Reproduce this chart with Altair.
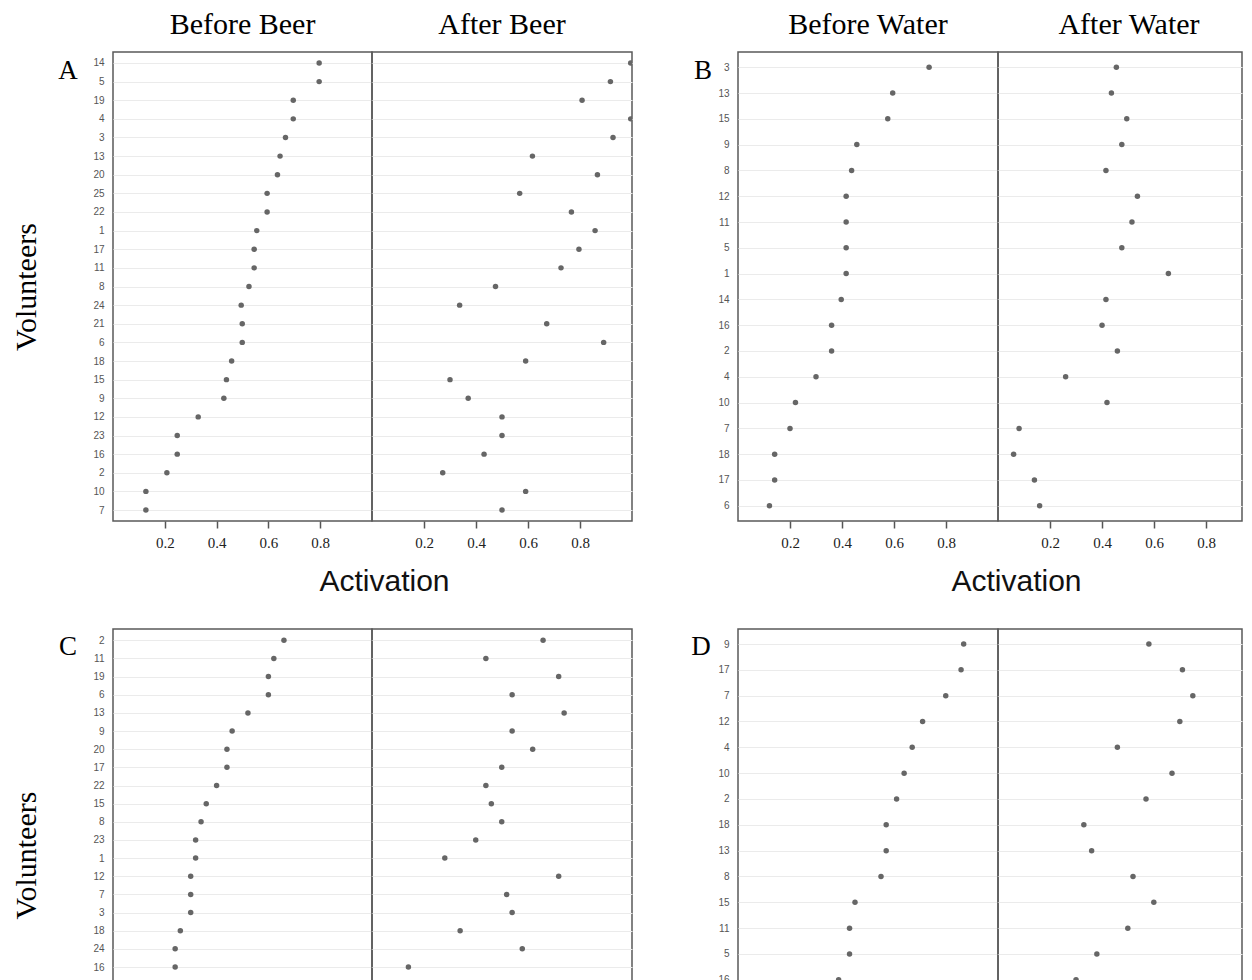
import altair as alt
import pandas as pd

# ---------------- data ----------------
# Panel A: beer study, before / after
a_ids = ["14", "5", "19", "4", "3", "13", "20", "25", "22", "1", "17", "11", "8",
         "24", "21", "6", "18", "15", "9", "12", "23", "16", "2", "10", "7"]
a_before = [0.796, 0.796, 0.696, 0.696, 0.666, 0.645, 0.635, 0.595, 0.595, 0.555,
            0.545, 0.545, 0.525, 0.495, 0.499, 0.499, 0.458, 0.438, 0.428, 0.329,
            0.248, 0.248, 0.208, 0.127, 0.127]
a_after = [0.995, 0.917, 0.808, 0.995, 0.927, 0.617, 0.867, 0.568, 0.767, 0.858,
           0.796, 0.727, 0.475, 0.337, 0.672, 0.891, 0.591, 0.300, 0.370, 0.500,
           0.500, 0.431, 0.272, 0.591, 0.500]

# Panel B: water study, before / after
b_ids = ["3", "13", "15", "9", "8", "12", "11", "5", "1", "14", "16", "2", "4",
         "10", "7", "18", "17", "6"]
b_before = [0.735, 0.595, 0.576, 0.457, 0.437, 0.416, 0.416, 0.416, 0.416, 0.397,
            0.360, 0.360, 0.300, 0.221, 0.200, 0.141, 0.141, 0.121]
b_after = [0.455, 0.436, 0.495, 0.476, 0.415, 0.536, 0.515, 0.476, 0.655, 0.415,
           0.400, 0.459, 0.260, 0.419, 0.081, 0.060, 0.140, 0.160]

# Panel C: beer study (visible rows only)
c_ids = ["2", "11", "19", "6", "13", "9", "20", "17", "22", "15", "8", "23", "1",
         "12", "7", "3", "18", "24", "16"]
c_before = [0.660, 0.621, 0.600, 0.600, 0.521, 0.460, 0.440, 0.440, 0.400, 0.360,
            0.340, 0.319, 0.319, 0.300, 0.300, 0.300, 0.260, 0.240, 0.240]
c_after = [0.658, 0.438, 0.718, 0.539, 0.739, 0.539, 0.618, 0.499, 0.438, 0.459,
           0.499, 0.399, 0.280, 0.718, 0.518, 0.539, 0.339, 0.578, 0.140]

# Panel D: water study (visible rows only)
d_ids = ["9", "17", "7", "12", "4", "10", "2", "18", "13", "8", "15", "11", "5", "16"]
d_before = [0.868, 0.858, 0.799, 0.710, 0.670, 0.639, 0.610, 0.570, 0.570, 0.550,
            0.450, 0.429, 0.429, 0.387]
d_after = [0.580, 0.709, 0.749, 0.699, 0.459, 0.669, 0.569, 0.330, 0.360, 0.519,
           0.599, 0.499, 0.380, 0.300]

tick_values = [0.2, 0.4, 0.6, 0.8]

SERIF = "Liberation Serif"
SANS = "Liberation Sans"
PANEL_H = 469
GRID = "#ebebeb"
DOT = "#666666"


def sub(ids, vals, width, xmax, side, header=None, header_dx=0, letter=None,
        letter_x=-45, letter_y=27, vol=False, vol_y=234.5, act_x=None, yrange=None):
    df = pd.DataFrame({"Volunteer": ids, "Activation": vals})
    if yrange is not None:
        yscale = alt.Scale(range=yrange, padding=0)
    else:
        yscale = alt.Scale(padding=0.59)

    if side == "before":
        yaxis = alt.Axis(labelFont=SANS, labelFontSize=10, labelColor="#555555",
                         labelPadding=9, ticks=False, domain=False, grid=True,
                         gridColor=GRID, gridWidth=1,
                         title="Volunteers" if vol else None,
                         titleFont=SERIF, titleFontSize=30, titleFontWeight="normal",
                         titleColor="#000000", titleAngle=270, titleX=-87,
                         titleY=vol_y, titleAlign="center", titleBaseline="middle")
        xaxis = alt.Axis(values=tick_values, format=".1f", labelFont=SERIF,
                         labelFontSize=15, labelColor="#222222", labelPadding=7,
                         labelFlush=False, tickSize=7, tickWidth=1.5,
                         tickColor="#555555", domain=False, grid=False,
                         title="Activation", titleFont=SANS, titleFontSize=30,
                         titleFontWeight="normal", titleColor="#111111",
                         titleX=act_x, titleY=69, titleAlign="center",
                         titleBaseline="alphabetic")
    else:
        yaxis = alt.Axis(labels=False, ticks=False, domain=False, grid=True,
                         gridColor=GRID, gridWidth=1, title=None)
        xaxis = alt.Axis(values=tick_values, format=".1f", labelFont=SERIF,
                         labelFontSize=15, labelColor="#222222", labelPadding=7,
                         labelFlush=False, tickSize=7, tickWidth=1.5,
                         tickColor="#555555", domain=False, grid=False, title=None)

    pts = alt.Chart(df).mark_circle(size=30, color=DOT, opacity=1, clip=True).encode(
        x=alt.X("Activation:Q", scale=alt.Scale(domain=[0, xmax], nice=False, zero=False),
                axis=xaxis),
        y=alt.Y("Volunteer:N", sort=ids, scale=yscale, axis=yaxis),
    )
    layers = [pts]
    if letter is not None:
        ltr = alt.Chart(pd.DataFrame({"letter": [letter]})).mark_text(
            font=SERIF, fontSize=27, align="center", baseline="alphabetic",
            color="#000000").encode(
            text="letter:N", x=alt.value(letter_x), y=alt.value(letter_y))
        layers.append(ltr)
    ch = alt.layer(*layers).properties(width=width, height=PANEL_H)
    if header is not None:
        ch = ch.properties(title=alt.TitleParams(
            text=header, font=SERIF, fontSize=30, fontWeight="normal",
            color="#000000", anchor="middle", offset=12, dx=header_dx))
    return ch


def spacer(w):
    return alt.Chart(pd.DataFrame({"s": [""]})).mark_text().encode(
        text="s:N").properties(width=w, height=PANEL_H,
                               view=alt.ViewBackground(stroke="transparent"))


A_b = sub(a_ids, a_before, 259, 1.0, "before", header="Before Beer", letter="A",
          letter_x=-45, letter_y=27, vol=True, act_x=271)
A_a = sub(a_ids, a_after, 260, 1.0, "after", header="After Beer")
B_b = sub(b_ids, b_before, 260, 1.0, "before", header="Before Water", letter="B",
          letter_x=-35, letter_y=27, act_x=278)
B_a = sub(b_ids, b_after, 244, 0.938, "after", header="After Water", header_dx=9)

C_b = sub(c_ids, c_before, 259, 1.0, "before", letter="C", letter_x=-45,
          letter_y=26, vol=True, vol_y=226, act_x=271, yrange=[11.3, 338])
C_a = sub(c_ids, c_after, 260, 1.0, "after", yrange=[11.3, 338])
D_b = sub(d_ids, d_before, 260, 1.0, "before", letter="D", letter_x=-37,
          letter_y=26, act_x=278, yrange=[15, 350.8])
D_a = sub(d_ids, d_after, 244, 0.938, "after", yrange=[15, 350.8])

chart = alt.concat(
    A_b, A_a, spacer(106), B_b, B_a,
    C_b, C_a, spacer(106), D_b, D_a,
    columns=5,
    spacing=alt.RowColnumber(row=108, column=0),
    bounds="flush",
).properties(
    padding={"left": 2, "top": 1, "right": 0, "bottom": 5},
    background="white",
).configure_view(
    stroke="#5a5a5a", strokeWidth=1.5,
)

chart.save("out.html", embed_options={"renderer": "svg", "actions": False})
